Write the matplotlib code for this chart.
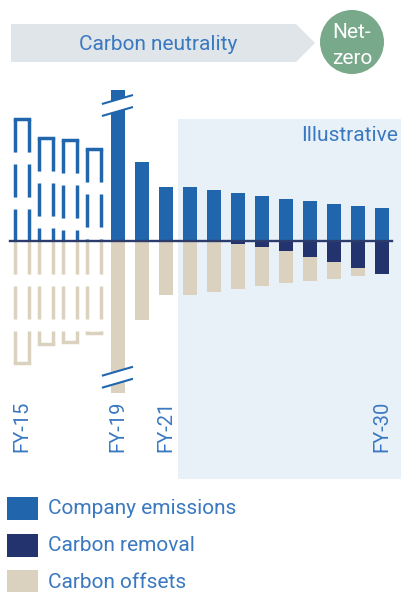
import matplotlib.pyplot as plt
from matplotlib.patches import Polygon, Circle, Rectangle

plt.rcParams['font.family'] = ['Roboto', 'DejaVu Sans']
plt.rcParams['lines.scale_dashes'] = False

# data (illustrative units)
years = ['FY-15', 'FY-16', 'FY-17', 'FY-18', 'FY-19', 'FY-20', 'FY-21', 'FY-22',
         'FY-23', 'FY-24', 'FY-25', 'FY-26', 'FY-27', 'FY-28', 'FY-29', 'FY-30']
emissions = [122, 103, 101, 92, 151, 79, 54, 54, 51, 48, 45, 42, 40, 37, 35, 33]
removal = [0, 0, 0, 0, 0, 0, 0, 0, 0, 3, 6, 10, 16, 21, 27, 33]
offsets = [122, 103, 101, 92, 152, 79, 54, 54, 51, 45, 39, 32, 24, 17, 8, 0]
shown_labels = ['FY-15', 'FY-19', 'FY-21', 'FY-30']
legend_labels = ['Company emissions', 'Carbon removal', 'Carbon offsets']

n_outline = 4        # early years drawn as dashed outlines
broken_idx = 4       # FY-19 bar is cut
illustrative_from = 6.5

BLUE = '#2166ac'
NAVY = '#22336e'
BEIGE = '#dad2bf'
SHADE = '#e8f0f8'
TXT = '#3a78c0'
LINE = '#2c3c6c'
FW = 'normal'

fig = plt.figure(figsize=(4.01, 5.92), dpi=100)
ax = fig.add_axes([0, 112 / 592, 1, 400 / 592])
ax.set_xlim(-22 / 24, 379 / 24)
ax.set_ylim(-239, 161)
ax.axis('off')

x = list(range(len(years)))
w = 0.56

# illustrative shaded zone
ax.add_patch(Rectangle((illustrative_from, -238), 20, 360, color=SHADE, lw=0, zorder=0))
ax.text(15.65, 100, 'Illustrative', ha='right', va='baseline', fontsize=15,
        color=TXT, fontweight=FW)

# filled bars
xs = x[n_outline:]
ax.bar(xs, emissions[n_outline:], width=w, color=BLUE, lw=0, zorder=2)
ax.bar(xs, [-r for r in removal[n_outline:]], width=w, color=NAVY, lw=0, zorder=2)
ax.bar(xs, [-o for o in offsets[n_outline:]], bottom=[-r for r in removal[n_outline:]],
       width=w, color=BEIGE, lw=0, zorder=2)

# dashed outline bars
lw = 2.5
dash = (23.8, 8.6)
for i in range(n_outline):
    x0, x1 = i - w / 2, i + w / 2
    h = emissions[i]
    for xe in (x0, x1):
        ax.plot([xe, xe], [h, 0], color=BLUE, lw=lw, dashes=dash,
                dash_capstyle='butt', zorder=3)
    ax.plot([x0, x1], [h, h], color=BLUE, lw=lw, solid_capstyle='projecting', zorder=3)
    d = offsets[i]
    for xe in (x0, x1):
        ax.plot([xe, xe], [0, -d], color=BEIGE, lw=lw, dashes=dash,
                dash_capstyle='butt', zorder=3)
    ax.plot([x0, x1], [-d, -d], color=BEIGE, lw=lw, solid_capstyle='projecting', zorder=3)

# break marks on the cut bar
for yc in (emissions[broken_idx] - 15.5, -offsets[broken_idx] + 15.75):
    xa, xb = broken_idx - 0.67, broken_idx + 0.625
    rise = 9
    gap = 6
    ax.add_patch(Polygon([(xa, yc - gap - rise / 2), (xb, yc - gap + rise / 2),
                          (xb, yc + gap + rise / 2), (xa, yc + gap - rise / 2)],
                         closed=True, color='white', lw=0, zorder=4))
    for s in (-gap, gap):
        ax.plot([xa, xb], [yc + s - rise / 2, yc + s + rise / 2], color=BLUE,
                lw=1.5, zorder=5, solid_capstyle='butt')

# zero line
ax.plot([-0.5, 15.42], [0, 0], color=LINE, lw=1.7, zorder=6)

# year labels
for lab in shown_labels:
    i = years.index(lab)
    ax.text(i, -160, lab, rotation=90, ha='center', va='top', fontsize=14.5,
            color=TXT, fontweight=FW)

# banner, circle and legend in pixel space
ov = fig.add_axes([0, 0, 1, 1])
ov.set_xlim(0, 401)
ov.set_ylim(592, 0)
ov.axis('off')
ov.patch.set_alpha(0)

ov.add_patch(Polygon([(11, 24), (296, 24), (315, 43), (296, 62), (11, 62)],
                     closed=True, color='#dfe5e8', lw=0))
ov.text(158, 44, 'Carbon neutrality', ha='center', va='center', fontsize=15,
        color=TXT, fontweight=FW)
ov.add_patch(Circle((352, 42), 32, color='#78a98a', lw=0))
ov.text(352, 38, 'Net-', ha='center', va='baseline', fontsize=15, color='white',
        fontweight=FW)
ov.text(352, 64, 'zero', ha='center', va='baseline', fontsize=15, color='white',
        fontweight=FW)

for k, (lab, col) in enumerate(zip(legend_labels, [BLUE, NAVY, BEIGE])):
    y = 497 + k * 36.5
    ov.add_patch(Rectangle((7, y), 31, 23, color=col, lw=0))
    ov.text(48, y + 12, lab, ha='left', va='center', fontsize=15, color=TXT,
            fontweight=FW)

fig.savefig('out.png', dpi=100)
